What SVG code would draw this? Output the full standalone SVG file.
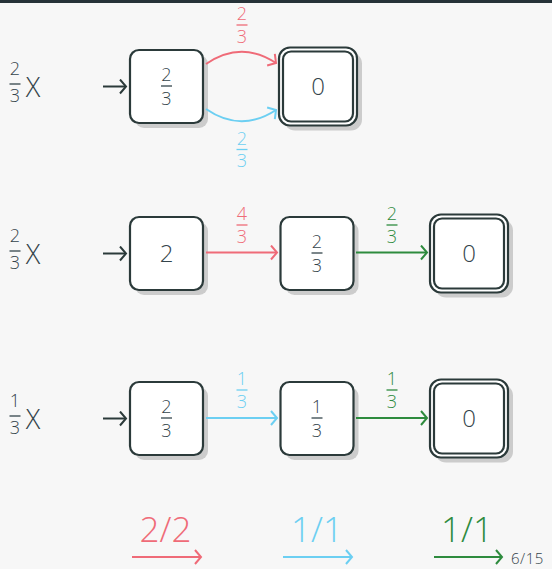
<svg xmlns="http://www.w3.org/2000/svg" width="552" height="569" viewBox="0 0 552 569">
<defs>
<style>
text{font-family:"Open Sans","Liberation Sans",sans-serif;font-weight:300;text-anchor:middle}
.d{fill:#34444b}
.r{fill:#ef6b78}.b{fill:#6ccff2}.g{fill:#2e8b3e}
.box{fill:#ffffff;stroke:#2b3a3a;stroke-width:2.2}
.sh{fill:#cccccc}
.bar{stroke-width:1.3}
.f{font-size:18px}
.n{font-size:24px}
.lx{font-size:27px}
.big{font-size:35px}
</style>
<marker id="ad" viewBox="-10 -8 12 16" markerWidth="12" markerHeight="16" refX="0" refY="0" orient="auto" markerUnits="userSpaceOnUse"><path d="M-6,-7 L0,0 L-6,7" fill="none" stroke="#2b3a3a" stroke-width="2"/></marker>
<marker id="ar" viewBox="-10 -8 12 16" markerWidth="12" markerHeight="16" refX="0" refY="0" orient="auto" markerUnits="userSpaceOnUse"><path d="M-6,-7 L0,0 L-6,7" fill="none" stroke="#ef6b78" stroke-width="2"/></marker>
<marker id="ab" viewBox="-10 -8 12 16" markerWidth="12" markerHeight="16" refX="0" refY="0" orient="auto" markerUnits="userSpaceOnUse"><path d="M-6,-7 L0,0 L-6,7" fill="none" stroke="#6ccff2" stroke-width="2"/></marker>
<marker id="ag" viewBox="-10 -8 12 16" markerWidth="12" markerHeight="16" refX="0" refY="0" orient="auto" markerUnits="userSpaceOnUse"><path d="M-6,-7 L0,0 L-6,7" fill="none" stroke="#2e8b3e" stroke-width="2"/></marker>
</defs>
<rect width="552" height="569" fill="#f7f7f7"/>
<rect width="552" height="3" fill="#263238"/>

<!-- row labels -->
<g id="label1">
<text class="d f" x="15" y="75">2</text><line class="bar" x1="9.5" y1="84" x2="20.5" y2="84" stroke="#34444b"/><text class="d f" x="15" y="102">3</text>
<text class="d lx" x="33" y="97">X</text>
</g>
<g id="label2">
<text class="d f" x="15" y="242">2</text><line class="bar" x1="9.5" y1="251" x2="20.5" y2="251" stroke="#34444b"/><text class="d f" x="15" y="269">3</text>
<text class="d lx" x="33" y="264">X</text>
</g>
<g id="label3">
<text class="d f" x="15" y="407">1</text><line class="bar" x1="9.5" y1="416" x2="20.5" y2="416" stroke="#34444b"/><text class="d f" x="15" y="434">3</text>
<text class="d lx" x="33" y="429">X</text>
</g>

<!-- row 1 nodes -->
<g id="r1n1">
<rect class="sh" x="135" y="55" width="73" height="73" rx="9"/>
<rect class="box" x="130" y="50" width="73" height="73" rx="9"/>
<text class="d f" x="166.5" y="81">2</text><line class="bar" x1="161" y1="86" x2="172" y2="86" stroke="#34444b"/><text class="d f" x="166.5" y="104.5">3</text>
</g>
<g id="r1n2">
<rect class="sh" x="284" y="52.5" width="78" height="78" rx="11"/>
<rect class="box" x="279" y="47.5" width="78" height="78" rx="11"/>
<rect class="box" x="283" y="51.5" width="70" height="70" rx="8"/>
<text class="d n" x="318" y="95">0</text>
</g>

<!-- row 2 nodes -->
<g id="r2n1">
<rect class="sh" x="135" y="222" width="73" height="73" rx="9"/>
<rect class="box" x="130" y="217" width="73" height="73" rx="9"/>
<text class="d n" x="166.5" y="262">2</text>
</g>
<g id="r2n2">
<rect class="sh" x="285.5" y="222" width="73" height="73" rx="9"/>
<rect class="box" x="280.5" y="217" width="73" height="73" rx="9"/>
<text class="d f" x="317" y="248">2</text><line class="bar" x1="311.5" y1="253" x2="322.5" y2="253" stroke="#34444b"/><text class="d f" x="317" y="271.5">3</text>
</g>
<g id="r2n3">
<rect class="sh" x="435" y="219.5" width="78" height="78" rx="11"/>
<rect class="box" x="430" y="214.5" width="78" height="78" rx="11"/>
<rect class="box" x="434" y="218.5" width="70" height="70" rx="8"/>
<text class="d n" x="469" y="262">0</text>
</g>

<!-- row 3 nodes -->
<g id="r3n1">
<rect class="sh" x="135" y="387" width="73" height="73" rx="9"/>
<rect class="box" x="130" y="382" width="73" height="73" rx="9"/>
<text class="d f" x="166.5" y="413">2</text><line class="bar" x1="161" y1="418" x2="172" y2="418" stroke="#34444b"/><text class="d f" x="166.5" y="436.5">3</text>
</g>
<g id="r3n2">
<rect class="sh" x="285.5" y="387" width="73" height="73" rx="9"/>
<rect class="box" x="280.5" y="382" width="73" height="73" rx="9"/>
<text class="d f" x="317" y="413">1</text><line class="bar" x1="311.5" y1="418" x2="322.5" y2="418" stroke="#34444b"/><text class="d f" x="317" y="436.5">3</text>
</g>
<g id="r3n3">
<rect class="sh" x="435" y="384.5" width="78" height="78" rx="11"/>
<rect class="box" x="430" y="379.5" width="78" height="78" rx="11"/>
<rect class="box" x="434" y="383.5" width="70" height="70" rx="8"/>
<text class="d n" x="469" y="427">0</text>
</g>

<!-- connectors -->
<g id="connectors" fill="none" stroke-width="2">
<line x1="103" y1="86.5" x2="126" y2="86.5" stroke="#2b3a3a" marker-end="url(#ad)"/>
<line x1="103" y1="253.5" x2="126" y2="253.5" stroke="#2b3a3a" marker-end="url(#ad)"/>
<line x1="103" y1="418.5" x2="126" y2="418.5" stroke="#2b3a3a" marker-end="url(#ad)"/>
<path d="M206,64 Q241,40 276,63" stroke="#ef6b78" marker-end="url(#ar)"/>
<path d="M206,109 Q241,133 276,110" stroke="#6ccff2" marker-end="url(#ab)"/>
<line x1="206" y1="252.5" x2="277" y2="252.5" stroke="#ef6b78" marker-end="url(#ar)"/>
<line x1="356" y1="252.5" x2="427" y2="252.5" stroke="#2e8b3e" marker-end="url(#ag)"/>
<line x1="206" y1="418" x2="277" y2="418" stroke="#6ccff2" marker-end="url(#ab)"/>
<line x1="356" y1="418" x2="427" y2="418" stroke="#2e8b3e" marker-end="url(#ag)"/>
<line x1="132" y1="557" x2="201" y2="557" stroke="#ef6b78" marker-end="url(#ar)"/>
<line x1="283" y1="557" x2="352" y2="557" stroke="#6ccff2" marker-end="url(#ab)"/>
<line x1="434" y1="557" x2="502" y2="557" stroke="#2e8b3e" marker-end="url(#ag)"/>
</g>

<!-- edge labels -->
<g id="edge-labels">
<text class="r f" x="242" y="20">2</text><line class="bar" x1="236.5" y1="25" x2="247.5" y2="25" stroke="#ef6b78"/><text class="r f" x="242" y="43">3</text>
<text class="b f" x="242" y="144.5">2</text><line class="bar" x1="236.5" y1="149.5" x2="247.5" y2="149.5" stroke="#6ccff2"/><text class="b f" x="242" y="167">3</text>
<text class="r f" x="242" y="220">4</text><line class="bar" x1="236.5" y1="225" x2="247.5" y2="225" stroke="#ef6b78"/><text class="r f" x="242" y="243">3</text>
<text class="g f" x="392" y="220">2</text><line class="bar" x1="386.5" y1="225" x2="397.5" y2="225" stroke="#2e8b3e"/><text class="g f" x="392" y="243">3</text>
<text class="b f" x="242" y="385">1</text><line class="bar" x1="236.5" y1="390" x2="247.5" y2="390" stroke="#6ccff2"/><text class="b f" x="242" y="408">3</text>
<text class="g f" x="392" y="385">1</text><line class="bar" x1="386.5" y1="390" x2="397.5" y2="390" stroke="#2e8b3e"/><text class="g f" x="392" y="408">3</text>
</g>

<!-- totals -->
<g id="totals">
<text class="r big" x="165.5" y="542">2/2</text>
<text class="b big" x="317" y="542">1/1</text>
<text class="g big" x="467" y="542">1/1</text>
<text class="d" x="511" y="564" style="font-size:15px;text-anchor:start;letter-spacing:0.5px">6/15</text>
</g>
</svg>
